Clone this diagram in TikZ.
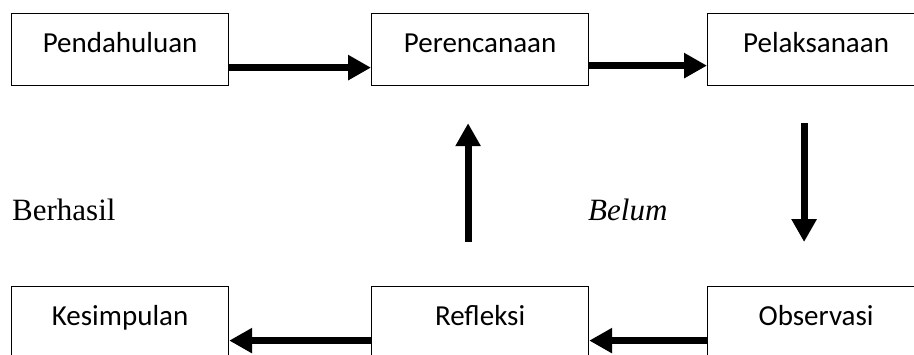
\documentclass[tikz,border=0pt]{standalone}
\usepackage{fontspec}
\setmainfont{Liberation Serif}
\newfontfamily\boxfont{Carlito}
\usetikzlibrary{arrows.meta}
\begin{document}
\begin{tikzpicture}[x=1pt,y=-1pt,
  stagebox/.style={draw=black, line width=1.2pt, rectangle, anchor=north west,
    minimum width=217pt, inner xsep=0pt, inner ysep=0pt,
    text height=39pt, text depth=33pt,
    font=\boxfont\fontsize{29}{34}\selectfont},
  flow/.style={line width=7pt, -{Triangle[length=23pt,width=24pt]}},
  lbl/.style={font=\fontsize{31}{36}\selectfont, anchor=base west, inner sep=0pt}]
\clip (0,0) rectangle (914,354);
\fill[white] (0,0) rectangle (914,354);
\node[stagebox] (p1) at (11,13) {Pendahuluan};
\node[stagebox] (p2) at (371,13) {Perencanaan};
\node[stagebox] (p3) at (707,13) {Pelaksanaan};
\node[stagebox] (k) at (11,286) {Kesimpulan};
\node[stagebox] (r) at (371,286) {Refleksi};
\node[stagebox] (o) at (707,286) {Observasi};
\node[lbl] (berhasil) at (12,220) {Berhasil};
\node[lbl] (belum) at (588,220) {\itshape Belum};
\draw[flow] ([yshift=-18pt]p1.east) -- ([yshift=-18pt]p2.west);
\draw[flow] ([yshift=-16pt]p2.east) -- ([yshift=-16pt]p3.west);
\draw[flow] ([xshift=-12pt,yshift=-37pt]p3.south) -- ([xshift=-12pt,yshift=44pt]o.north);
\draw[flow] ([xshift=-12pt,yshift=44pt]r.north) -- ([xshift=-12pt,yshift=-37pt]p2.south);
\draw[flow] ([yshift=-18pt]o.west) -- ([yshift=-18pt]r.east);
\draw[flow] ([yshift=-18pt]r.west) -- ([yshift=-18pt]k.east);
\end{tikzpicture}
\end{document}
